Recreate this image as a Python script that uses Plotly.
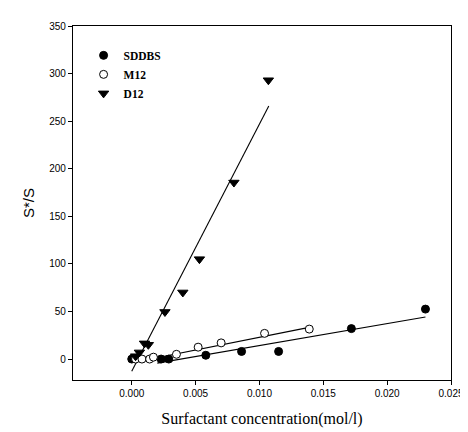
import plotly.graph_objects as go

# Data
sddbs_x = [0.0, 0.0023, 0.0029, 0.0058, 0.0086, 0.0115, 0.0172, 0.0230]
sddbs_y = [0.0, 0.0, 0.0, 4.0, 8.0, 8.0, 32.0, 52.5]

m12_x = [0.0003, 0.0008, 0.0014, 0.0017, 0.0035, 0.0052, 0.0070, 0.0104, 0.0139]
m12_y = [0.0, 0.0, 0.0, 2.0, 5.0, 12.5, 17.0, 27.0, 31.5]

d12_x = [0.0003, 0.0006, 0.0010, 0.0013, 0.0026, 0.0040, 0.0053, 0.0080, 0.0107]
d12_y = [3.0, 7.0, 16.5, 15.0, 49.5, 70.0, 105.0, 185.5, 293.0]

# Fitted lines (end points)
sddbs_fit_x = [0.0020, 0.0230]
sddbs_fit_y = [-4.3, 44.2]
m12_fit_x = [0.0003, 0.0136]
m12_fit_y = [-3.0, 32.5]
d12_fit_x = [0.0, 0.01073]
d12_fit_y = [-12.8, 266.0]

x_ticks = [0.0, 0.005, 0.010, 0.015, 0.020, 0.025]
x_tick_labels = ["0.000", "0.005", "0.010", "0.015", "0.020", "0.025"]
y_ticks = [0, 50, 100, 150, 200, 250, 300, 350]

fig = go.Figure()
line_style = dict(color="black", width=1.1)
for fx, fy in [(sddbs_fit_x, sddbs_fit_y), (m12_fit_x, m12_fit_y), (d12_fit_x, d12_fit_y)]:
    fig.add_trace(go.Scatter(x=fx, y=fy, mode="lines", line=line_style,
                             showlegend=False, hoverinfo="skip"))

fig.add_trace(go.Scatter(x=sddbs_x, y=sddbs_y, mode="markers", name="SDDBS",
                         marker=dict(symbol="circle", size=8, color="black",
                                     line=dict(color="black", width=1))))
fig.add_trace(go.Scatter(x=m12_x, y=m12_y, mode="markers", name="M12",
                         marker=dict(symbol="circle", size=8, color="white",
                                     line=dict(color="black", width=1))))
fig.add_trace(go.Scatter(x=d12_x, y=d12_y, mode="markers", name="D12",
                         marker=dict(symbol="triangle-down", size=9, color="black",
                                     line=dict(color="black", width=1))))

fig.update_layout(
    width=468, height=432,
    margin=dict(l=65, r=12, t=13, b=60),
    paper_bgcolor="white", plot_bgcolor="white",
    font=dict(family="Liberation Sans", color="black", size=10),
    legend=dict(x=0.028, y=0.958, xanchor="left", yanchor="top",
                bgcolor="rgba(0,0,0,0)", borderwidth=0,
                font=dict(family="Liberation Serif", size=11.5, color="black",
                          weight="bold"),
                itemwidth=30, tracegroupgap=0),
)
fig.update_xaxes(range=[-0.0046, 0.025], tickvals=x_ticks, ticktext=x_tick_labels,
                 ticks="outside", ticklen=4, tickcolor="black", tickwidth=1,
                 showline=True, linecolor="black", linewidth=1.2, mirror=True,
                 showgrid=False, zeroline=False,
                 title=dict(text="Surfactant concentration(mol/l)",
                            font=dict(family="Liberation Serif", size=16),
                            standoff=14))
fig.update_yaxes(range=[-22, 350], tickvals=y_ticks,
                 ticks="outside", ticklen=4, tickcolor="black", tickwidth=1,
                 showline=True, linecolor="black", linewidth=1.2, mirror=True,
                 showgrid=False, zeroline=False,
                 title=dict(text="S*/S", font=dict(family="Liberation Sans", size=15),
                            standoff=10))

fig.write_html("out.html")
